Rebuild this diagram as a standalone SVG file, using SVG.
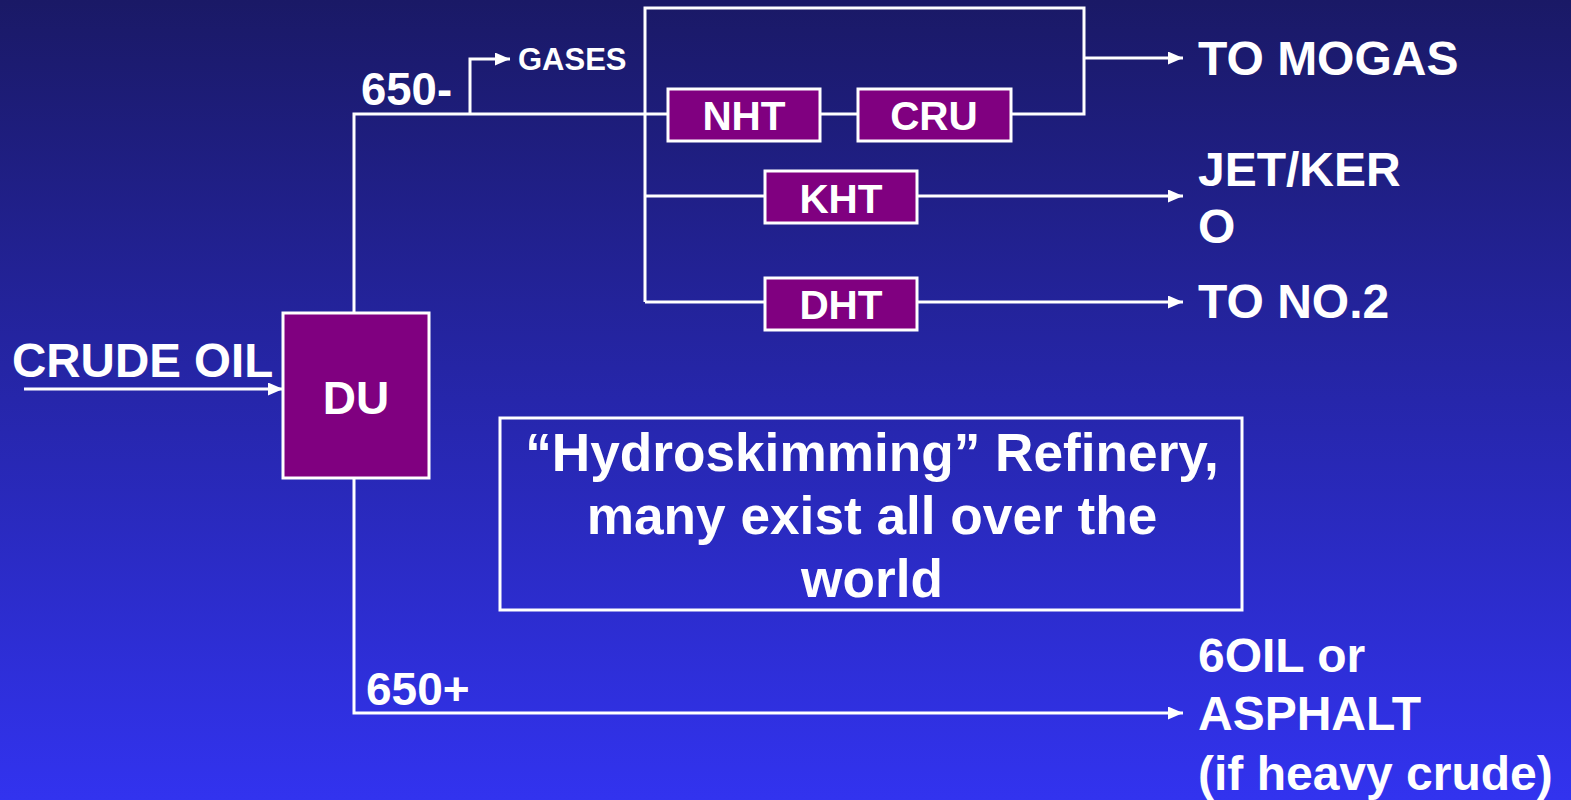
<svg xmlns="http://www.w3.org/2000/svg" width="1571" height="800" viewBox="0 0 1571 800">
<defs>
<linearGradient id="bg" x1="0" y1="0" x2="0" y2="1">
<stop offset="0" stop-color="#1a1966"/>
<stop offset="1" stop-color="#3233ef"/>
</linearGradient>
<marker id="ah" viewBox="0 0 15 13" refX="15" refY="6.5" markerWidth="15" markerHeight="13" markerUnits="userSpaceOnUse" orient="auto">
<path d="M0,0 L15,6.5 L0,13 Z" fill="#ffffff"/>
</marker>
<style>
.ln{fill:none;stroke:#ffffff;stroke-width:3}
.box{fill:#800080;stroke:#ffffff;stroke-width:3}
.t{font-family:"Liberation Sans",Arial,sans-serif;font-weight:bold;fill:#ffffff}
</style>
</defs>
<rect x="0" y="0" width="1571" height="800" fill="url(#bg)"/>
<g id="connectors">
<line class="ln" x1="24" y1="389" x2="283" y2="389" marker-end="url(#ah)"/>
<polyline class="ln" points="354,313 354,114 668,114"/>
<polyline class="ln" points="470,114 470,59 510,59" marker-end="url(#ah)"/>
<polyline class="ln" points="645,302 645,8 1084,8 1084,114 1011,114"/>
<line class="ln" x1="820" y1="114" x2="858" y2="114"/>
<line class="ln" x1="1084" y1="58" x2="1183" y2="58" marker-end="url(#ah)"/>
<line class="ln" x1="645" y1="196" x2="765" y2="196"/>
<line class="ln" x1="917" y1="196" x2="1183" y2="196" marker-end="url(#ah)"/>
<line class="ln" x1="645" y1="302" x2="765" y2="302"/>
<line class="ln" x1="917" y1="302" x2="1183" y2="302" marker-end="url(#ah)"/>
<polyline class="ln" points="354,478 354,713 1183,713" marker-end="url(#ah)"/>
</g>
<g id="crude"><text class="t" x="12" y="377" font-size="47.5">CRUDE OIL</text></g>
<g id="du"><rect class="box" x="283" y="313" width="146" height="165"/><text class="t" x="356" y="414" font-size="46" text-anchor="middle">DU</text></g>
<g id="l650m"><text class="t" x="361" y="105" font-size="45.5">650-</text></g>
<g id="gases"><text class="t" x="518" y="70" font-size="31">GASES</text></g>
<g id="nht"><rect class="box" x="668" y="89" width="152" height="52"/><text class="t" x="744" y="130" font-size="40.5" text-anchor="middle">NHT</text></g>
<g id="cru"><rect class="box" x="858" y="89" width="153" height="52"/><text class="t" x="934" y="130" font-size="40.5" text-anchor="middle">CRU</text></g>
<g id="kht"><rect class="box" x="765" y="171" width="152" height="52"/><text class="t" x="841" y="213" font-size="40.5" text-anchor="middle">KHT</text></g>
<g id="dht"><rect class="box" x="765" y="278" width="152" height="52"/><text class="t" x="841" y="319" font-size="40.5" text-anchor="middle">DHT</text></g>
<g id="mogas"><text class="t" x="1198" y="75" font-size="48">TO MOGAS</text></g>
<g id="jet"><text class="t" x="1198" y="186" font-size="48">JET/KER</text><text class="t" x="1198" y="243" font-size="48">O</text></g>
<g id="no2"><text class="t" x="1198" y="318" font-size="48">TO NO.2</text></g>
<g id="l650p"><text class="t" x="366" y="705" font-size="46">650+</text></g>
<g id="asphalt"><text class="t" x="1198" y="672" font-size="48">6OIL or</text><text class="t" x="1198" y="730" font-size="48">ASPHALT</text><text class="t" x="1198" y="790" font-size="48">(if heavy crude)</text></g>
<g id="note"><rect x="500" y="418" width="742" height="192" fill="none" stroke="#ffffff" stroke-width="3"/>
<text class="t" x="872" y="471" font-size="53.2" text-anchor="middle">“Hydroskimming” Refinery,</text>
<text class="t" x="872" y="534" font-size="53.2" text-anchor="middle">many exist all over the</text>
<text class="t" x="872" y="597" font-size="53.2" text-anchor="middle">world</text></g>
</svg>
